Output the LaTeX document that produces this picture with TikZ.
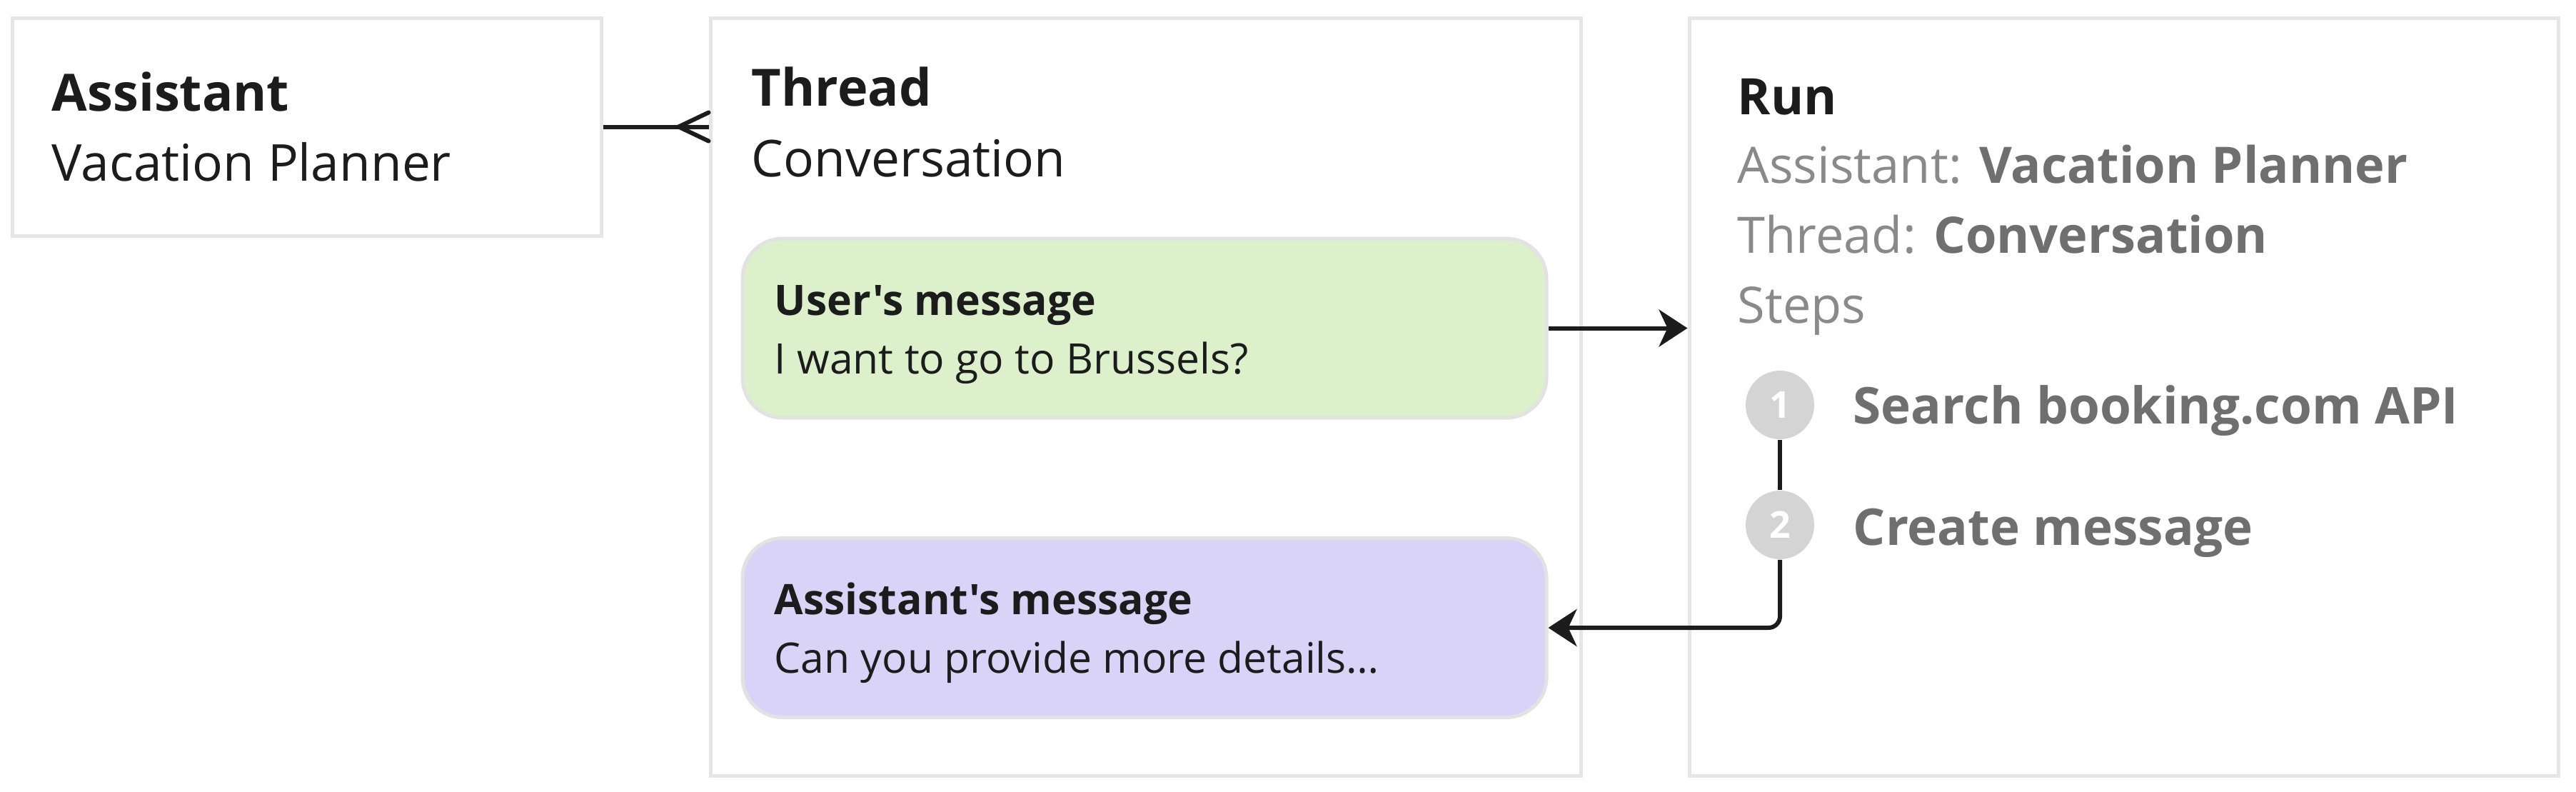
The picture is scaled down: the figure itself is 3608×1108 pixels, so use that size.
\documentclass[tikz,border=0pt]{standalone}
\usepackage{fontspec}
\setmainfont{Open Sans}[Ligatures=TeXOff]
\usetikzlibrary{arrows.meta,calc}
\definecolor{ink}{HTML}{1C1C1C}
\definecolor{boxline}{HTML}{E6E6E6}
\definecolor{msgline}{HTML}{E2E2E2}
\definecolor{greenfill}{HTML}{DDF0CC}
\definecolor{purplefill}{HTML}{D9D3F7}
\definecolor{labelgray}{HTML}{8A8A8A}
\definecolor{valuegray}{HTML}{6F6F6F}
\definecolor{stepfill}{HTML}{D4D4D4}
\begin{document}
\begin{tikzpicture}[x=0.25pt,y=-0.25pt,
  frame/.style={draw=boxline,line width=1.25pt,fill=white,inner sep=0pt,rectangle},
  msgbox/.style={draw=msgline,line width=1.25pt,rounded corners=14pt,inner sep=0pt,rectangle,minimum width=281.5pt,minimum height=62.75pt},
  txt/.style={anchor=base west,inner sep=0pt,text=ink},
  title/.style={txt,font=\fontsize{18}{21}\selectfont\bfseries},
  sub/.style={txt,font=\fontsize{17.8}{21}\selectfont},
  msgtitle/.style={txt,font=\fontsize{14.7}{17}\selectfont\bfseries},
  msgtext/.style={txt,font=\fontsize{14.7}{17}\selectfont},
  runline/.style={txt,text=labelgray,font=\fontsize{17.6}{20}\selectfont},
  steptext/.style={txt,text=valuegray,font=\fontsize{17.75}{21}\selectfont\bfseries},
  stepdot/.style={circle,fill=stepfill,minimum size=24pt,inner sep=0pt,text=white,font=\fontsize{13}{15}\selectfont\bfseries},
  conn/.style={draw=ink,line width=1.5pt},
  arr/.style={conn,-{Stealth[length=10pt,width=13pt,inset=3pt]}}
]
\useasboundingbox (0,0) rectangle (3608,1108);
\fill[white] (0,0) rectangle (3608,1108);

% main frames
\node[frame,minimum width=206.25pt,minimum height=76.25pt] (asst) at (429.5,177.5) {};
\node[frame,minimum width=304.75pt,minimum height=265.25pt] (thread) at (1604.5,555.5) {};
\node[frame,minimum width=304.25pt,minimum height=265.25pt] (run) at (2974.5,555.5) {};

% message boxes
\node[msgbox,fill=greenfill] (umsg) at (1603,459.5) {};
\node[msgbox,fill=purplefill] (amsg) at (1603,879) {};

% texts
\node[title] (asstT) at (72,155) {Assistant};
\node[sub] (asstS) at (72,253) {Vacation Planner};
\node[title] (thrT) at (1052,148) {Thread};
\node[sub] (thrS) at (1052,247) {Conversation};
\node[msgtitle] (umT) at (1084,441) {User's message};
\node[msgtext] (umS) at (1084,523) {I want to go to Brussels?};
\node[msgtitle] (amT) at (1084,860) {Assistant's message};
\node[msgtext] (amS) at (1084,942) {Can you provide more details…};
\node[title,font=\fontsize{17.6}{20}\selectfont\bfseries] (runT) at (2433,160) {Run};
\node[runline] (runA) at (2433,256) {Assistant: \textbf{\color{valuegray}Vacation Planner}};
\node[runline] (runB) at (2433,354) {Thread: \textbf{\color{valuegray}Conversation}};
\node[runline] (runC) at (2433,452) {Steps};

% steps
\node[stepdot] (s1) at (2493,567) {1};
\node[stepdot] (s2) at (2493,735) {2};
\node[steptext] (s1t) at (2595,593) {Search booking.com API};
\node[steptext] (s2t) at (2595,763) {Create message};

% connectors
\coordinate (cf) at (asst.east -| thread.west);
\draw[conn] (asst.east) -- (cf);
\draw[conn,line cap=round] ($(cf)+(-42,0)$) -- ($(cf)+(0,-20)$);
\draw[conn,line cap=round] ($(cf)+(-42,0)$) -- ($(cf)+(0,20)$);
\draw[arr] (umsg.east) -- (umsg.east -| run.west);
\draw[conn] (s1.south) -- (s2.north);
\draw[arr,rounded corners=4pt] (s2.south) |- (amsg.east);
\end{tikzpicture}
\end{document}
